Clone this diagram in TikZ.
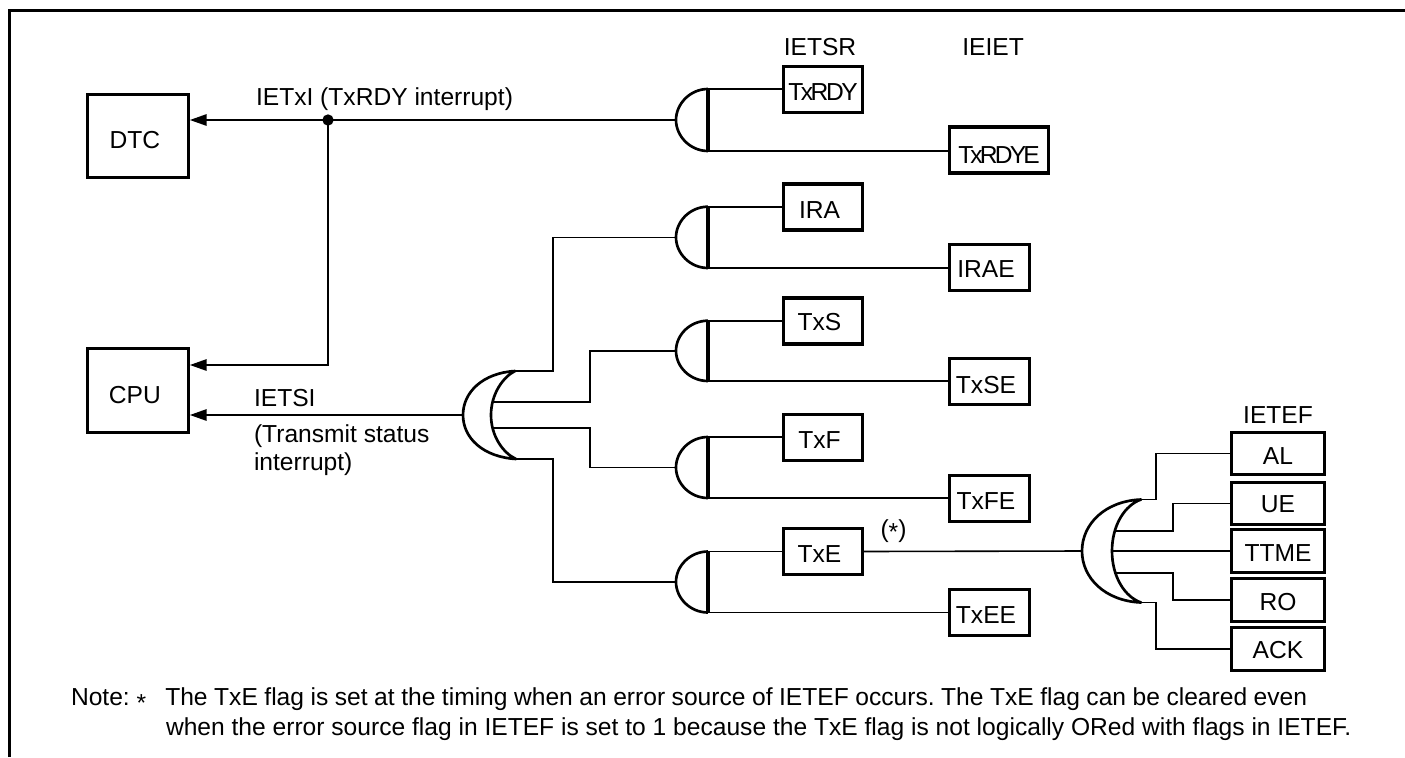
\documentclass[tikz,border=0pt]{standalone}
\usepackage{fontspec}
\setmainfont{Liberation Sans}
\usetikzlibrary{arrows.meta}
% box text: #1 = distance of the baseline below the node centre
\newcommand{\dn}[2]{\raisebox{0pt}[\dimexpr #1*2\relax][0pt]{#2}}
% the same, with the text a little left of the centre
\newcommand{\dnl}[2]{\raisebox{0pt}[\dimexpr #1*2\relax][0pt]{#2\hspace{5.25pt}}}
\newcommand{\astr}[1]{\raisebox{-#1}{*}}
\tikzset{
  x=0.75pt,y=-0.75pt,
  wire/.style={line width=1.2pt,black},
  gateline/.style={line width=2pt,line join=round},
  plate/.style={line width=2.6pt,line cap=butt},
  frameline/.style={line width=2.5pt},
  txtfont/.style={font=\fontsize{18.45}{22}\selectfont\frenchspacing},
  reg/.style={draw,line width=2.3pt,inner sep=0pt,outer sep=0pt,txtfont,minimum width=#1*0.75pt,minimum height=46*0.75pt},
  reg/.default=79.5,
  flagreg/.style={reg=93,minimum height=42.5*0.75pt},
  host/.style={draw,line width=2.5pt,inner sep=0pt,outer sep=0pt,txtfont,minimum width=101*0.75pt,minimum height=83*0.75pt},
  lbl/.style={inner sep=0pt,outer sep=0pt,txtfont,anchor=base},
  lblw/.style={lbl,anchor=base west},
  arrowline/.style={wire,-{Triangle[length=12.5pt,width=8.5pt]},shorten >=0.8pt},
  dotnode/.style={circle,fill=black,inner sep=0pt,minimum size=8.5pt},
}
% and gate: #1 name, #2 top y, #3 bottom y; plate at x=708
\newcommand{\andgate}[3]{%
  \coordinate (#1t) at (708,#2);
  \coordinate (#1b) at (708,#3);
  \coordinate (#1o) at (676,{(#2+#3)/2});
  \draw[gateline] (#1t) .. controls (690,#2) and (676,{(#2+#3)/2-16}) .. (#1o)
     .. controls (676,{(#2+#3)/2+16}) and (690,#3) .. (#1b);
  \draw[plate] (#1t) -- (#1b);
}
\begin{document}
\begin{tikzpicture}
\useasboundingbox (0,0) rectangle (1405,757);
% frame
\draw[frameline] (9.5,757) -- (9.5,10.8) -- (1405,10.8);

% hosts
\node[host] (dtc) at (138.3,136) {\dnl{9pt}{DTC}};
\node[host,minimum height=84*0.75pt] (cpu) at (138.3,390.5) {\dnl{10.1pt}{CPU}};

% registers
\node[reg] (txrdy) at (823,89.5) {\dn{7.9pt}{\addfontfeature{LetterSpace=-10}TxRDY}};
\node[reg=99] (txrdye) at (999,150) {\dn{9.75pt}{\addfontfeature{LetterSpace=-11.5}TxRDYE}};
\node[reg] (ira) at (823,207) {\dnl{8.5pt}{IRA}};
\node[reg=80] (irae) at (989.5,267.5) {\dnl{7.6pt}{IRAE}};
\node[reg] (txs) at (823,321) {\dnl{7.3pt}{TxS}};
\node[reg=80] (txse) at (989.5,381.5) {\dnl{8.9pt}{TxSE}};
\node[reg] (txf) at (823,437.5) {\dnl{8.6pt}{TxF}};
\node[reg=80] (txfe) at (989.5,498.5) {\dnl{7.9pt}{TxFE}};
\node[reg] (txe) at (823,551.5) {\dnl{8.6pt}{TxE}};
\node[reg=80] (txee) at (989.5,612.5) {\dnl{8.1pt}{TxEE}};
\node[flagreg] (al) at (1278,453.5) {\dn{8.6pt}{AL}};
\node[flagreg] (ue) at (1278,503.5) {\dn{6.9pt}{UE}};
\node[flagreg] (ttme) at (1278,551) {\dn{8pt}{TTME}};
\node[flagreg] (ro) at (1278,600) {\dn{8pt}{RO}};
\node[flagreg] (ack) at (1278,649) {\dn{6.8pt}{ACK}};

% and gates
\andgate{ga}{89}{151}
\andgate{gb}{206.7}{268}
\andgate{gc}{320.7}{381}
\andgate{gd}{437}{498}
\andgate{ge}{551.5}{612.5}

% or gates
\coordinate (ora) at (463,415);
\coordinate (orat) at (515,371);
\coordinate (orab) at (516,459);
\draw[gateline,fill=white] (orat) .. controls (483,373) and (463,392) .. (ora)
  .. controls (463,438) and (483,457) .. (orab)
  .. controls (503,453) and (491,436) .. (491,415)
  .. controls (491,394) and (503,377) .. (orat) -- cycle;
\coordinate (orb) at (1082,551);
\coordinate (orbt) at (1141,499.5);
\coordinate (orbb) at (1141,602.5);
\draw[gateline,fill=white] (orbt) .. controls (1105,501) and (1082,524) .. (orb)
  .. controls (1082,578) and (1105,601) .. (orbb)
  .. controls (1125,597) and (1112,577) .. (1112,551)
  .. controls (1112,525) and (1125,505) .. (orbt) -- cycle;

% wires to registers
\foreach \g/\u/\l in {ga/txrdy/txrdye,gb/ira/irae,gc/txs/txse,gd/txf/txfe,ge/txe/txee}{
  \draw[wire] (\g t) -- (\g t -| \u.west);
  \draw[wire] (\g b) -- (\g b -| \l.west);
}
% main or outputs
\coordinate (p1) at (493,402);
\coordinate (p2) at (493,428);
\draw[wire] (orat) -- (553,371) |- (gbo);
\draw[wire] (p1) -- (590,402) |- (gco);
\draw[wire] (p2) -- (590,428) |- (gdo);
\draw[wire] (orab) -- (553,459) |- (geo);
% small or inputs
\coordinate (q1) at (1116,531);
\coordinate (q2) at (1112,551);
\coordinate (q3) at (1116,573);
\draw[wire] (orbt) -- (1156,499.5) |- (al.west);
\draw[wire] (q1) -- (1173,531) |- (ue.west);
\draw[wire] (q2) -- (ttme.west);
\draw[wire] (q3) -- (1173,573) |- (ro.west);
\draw[wire] (orbb) -- (1156,602.5) |- (ack.west);
\draw[wire] (txe.east) -- (orb);

% interrupts
\node[dotnode] (dot) at (328,120) {};
\draw[arrowline] (gao) -- (gao -| dtc.east);
\coordinate (cpuin) at (cpu.east |- 0,365);
\draw[arrowline] (dot.center) |- (cpuin);
\draw[arrowline] (ora) -- (ora -| cpu.east);

% labels
\node[lbl] (l1) at (820,55) {IETSR};
\node[lbl] (l2) at (993,55) {IEIET};
\node[lbl] (l3) at (1278,423) {IETEF};
\node[lblw] (l4) at (256,105) {IETxI (TxRDY interrupt)};
\node[lblw] (l5) at (254,406) {IETSI};
\node[lblw] (l6) at (254,442) {(Transmit status};
\node[lblw] (l7) at (254,470) {interrupt)};
\node[lbl] (l8) at (893.5,537) {(\astr{2.6pt})};
\node[lblw] (n1) at (71,705) {Note: \astr{4.5pt}\hspace{14.3pt}{\spaceskip=4.89pt The TxE flag is set at the timing when an error source of IETEF occurs. The TxE flag can be cleared even}};
\node[lblw] (n2) at (166,735) {when the error source flag in IETEF is set to 1 because the TxE flag is not logically ORed with flags in IETEF.};
\end{tikzpicture}
\end{document}
